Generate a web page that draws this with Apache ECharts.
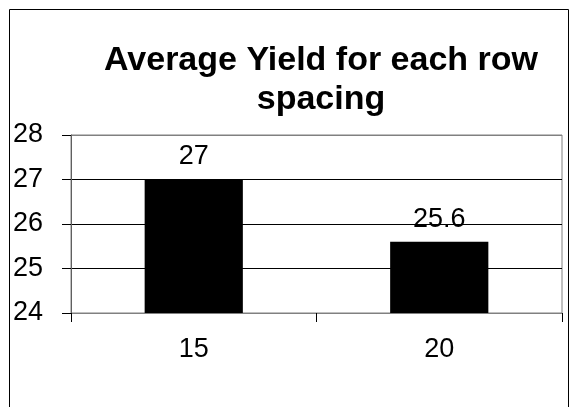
<!DOCTYPE html>
<html>
<head>
<meta charset="utf-8">
<script src="https://cdn.jsdelivr.net/npm/echarts@6/dist/echarts.min.js"></script>
<style>
  html, body { margin: 0; padding: 0; background: #fff; }
  #chart { width: 569px; height: 407px; }
</style>
</head>
<body>
<div id="chart"></div>
<script>
// Row spacing categories and the mean yield for each
const rowSpacings = ['15', '20'];
const avgYield = [27, 25.6];
const yTicks = { min: 24, max: 28, step: 1 };

const FONT = '"Liberation Sans", Arial, sans-serif';

const chart = echarts.init(document.getElementById('chart'), null, { renderer: 'canvas' });

chart.setOption({
  backgroundColor: '#ffffff',
  animation: false,
  title: {
    text: 'Average Yield for each row\nspacing',
    left: 316,
    top: 36,
    textAlign: 'center',
    textStyle: {
      fontFamily: FONT,
      fontSize: 34,
      fontWeight: 'bold',
      lineHeight: 39,
      color: '#000'
    }
  },
  graphic: [
    {
      // outer chart frame
      type: 'rect',
      shape: { x: 9.5, y: 9.5, width: 559, height: 420 },
      style: { fill: null, stroke: '#000', lineWidth: 1 },
      silent: true
    }
  ],
  grid: {
    left: 71,
    right: 7,
    top: 135,
    bottom: 94,
    show: true,
    borderColor: '#808080',
    borderWidth: 1,
    backgroundColor: 'transparent'
  },
  xAxis: {
    type: 'category',
    data: rowSpacings,
    boundaryGap: true,
    axisLine: { show: true, lineStyle: { color: '#808080', width: 1 } },
    axisTick: { show: true, length: 9, inside: false, alignWithLabel: false, lineStyle: { color: '#000' } },
    axisLabel: { margin: 23, fontFamily: FONT, fontSize: 27, color: '#000' },
    splitLine: { show: false }
  },
  yAxis: {
    type: 'value',
    min: yTicks.min,
    max: yTicks.max,
    interval: yTicks.step,
    axisLine: { show: true, lineStyle: { color: '#606060', width: 1 } },
    axisTick: { show: true, length: 9, inside: false, lineStyle: { color: '#000' } },
    axisLabel: { margin: 28, fontFamily: FONT, fontSize: 27, color: '#000' },
    splitLine: {
      show: true,
      lineStyle: { color: ['#808080', '#000', '#000', '#000', '#808080'], width: 1 }
    }
  },
  series: [
    {
      type: 'bar',
      data: avgYield,
      barWidth: '40%',
      itemStyle: { color: '#000' },
      label: {
        show: true,
        position: 'top',
        distance: 9,
        fontFamily: FONT,
        fontSize: 27,
        color: '#000'
      }
    }
  ]
});
</script>
</body>
</html>
